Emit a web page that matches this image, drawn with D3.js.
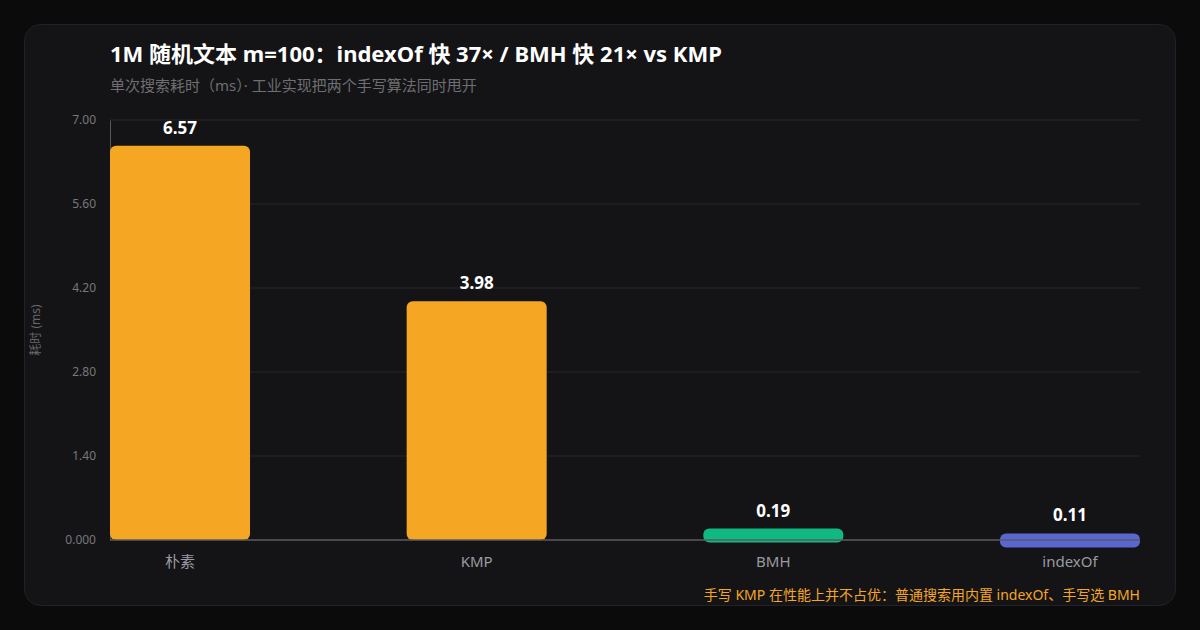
<!DOCTYPE html>
<html>
<head>
<meta charset="utf-8">
<script src="https://cdn.jsdelivr.net/npm/d3@7"></script>
<style>
  html, body { margin: 0; padding: 0; background: #0b0b0c; }
  svg { display: block; font-family: "Noto Sans", "Noto Sans CJK SC", sans-serif; }
</style>
</head>
<body>
<div id="content"></div>
<script>
// Chart data
var categories = ["朴素", "KMP", "BMH", "indexOf"];
var times = [6.57, 3.98, 0.19, 0.11];
var barColors = ["#f5a623", "#f5a623", "#10b981", "#5b67d0"];
var yTicks = [0, 1.4, 2.8, 4.2, 5.6, 7.0];

var titleText = "1M 随机文本 m=100：indexOf 快 37× / BMH 快 21× vs KMP";
var subtitleText = "单次搜索耗时（ms）· 工业实现把两个手写算法同时甩开";
var yLabelText = "耗时 (ms)";
var noteText = "手写 KMP 在性能上并不占优：普通搜索用内置 indexOf、手写选 BMH";

// SVG size
var svgWidth = 1200;
var svgHeight = 630;

// Plot area
var margin = { top: 120, right: 60, bottom: 90, left: 110 },
    plotWidth = svgWidth - margin.left - margin.right,
    plotHeight = svgHeight - margin.top - margin.bottom;

var svg = d3.select("#content").append("svg")
    .attr("width", svgWidth)
    .attr("height", svgHeight);

// Card
svg.append("rect")
    .attr("x", 24.5).attr("y", 24.5)
    .attr("width", 1151).attr("height", 581)
    .attr("rx", 16)
    .attr("fill", "#141416")
    .attr("stroke", "#222226");

// Titles
svg.append("text")
    .attr("x", 110).attr("y", 62)
    .attr("fill", "#ffffff")
    .attr("font-size", 22)
    .attr("font-weight", "bold")
    .text(titleText);

svg.append("text")
    .attr("x", 110).attr("y", 91)
    .attr("fill", "#6e6e73")
    .attr("font-size", 15)
    .text(subtitleText);

var chart = svg.append("g")
    .attr("transform", "translate(" + margin.left + "," + margin.top + ")");

var xScale = d3.scaleBand()
    .domain(categories)
    .range([0, plotWidth])
    .paddingInner(0.528)
    .paddingOuter(0);

var yScale = d3.scaleLinear()
    .domain([0, 7])
    .range([plotHeight, 0]);

// Grid lines
chart.selectAll(".grid")
    .data(yTicks.slice(1))
    .enter().append("line")
    .attr("class", "grid")
    .attr("x1", 0).attr("x2", plotWidth)
    .attr("y1", function (d) { return yScale(d); })
    .attr("y2", function (d) { return yScale(d); })
    .attr("stroke", "#26262a");

// y axis
var yAxis = d3.axisLeft(yScale)
    .tickValues(yTicks)
    .tickSize(0)
    .tickPadding(14)
    .tickFormat(function (d) { return d === 0 ? "0.000" : d3.format(".2f")(d); });

var yAxisG = chart.append("g").call(yAxis);
yAxisG.select(".domain").attr("stroke", "#55555a");
yAxisG.selectAll("text")
    .attr("fill", "#77777c")
    .attr("font-size", 12)
    .attr("font-family", "'Noto Sans', sans-serif");

// Bars (minimum visible height for tiny values)
var minBarHeight = 14;
chart.selectAll(".bar")
    .data(times)
    .enter().append("rect")
    .attr("class", "bar")
    .attr("x", function (d, i) { return xScale(categories[i]); })
    .attr("y", function (d) { return yScale(d); })
    .attr("width", xScale.bandwidth())
    .attr("height", function (d) { return Math.max(plotHeight - yScale(d), minBarHeight); })
    .attr("rx", 6)
    .attr("fill", function (d, i) { return barColors[i]; });

// Baseline
chart.append("line")
    .attr("x1", 0).attr("x2", plotWidth)
    .attr("y1", plotHeight).attr("y2", plotHeight)
    .attr("stroke", "#5a5a60")
    .attr("stroke-width", 1.5);

// Value labels
chart.selectAll(".value")
    .data(times)
    .enter().append("text")
    .attr("class", "value")
    .attr("x", function (d, i) { return xScale(categories[i]) + xScale.bandwidth() / 2; })
    .attr("y", function (d) { return yScale(d) - 12; })
    .attr("text-anchor", "middle")
    .attr("fill", "#ffffff")
    .attr("font-size", 17)
    .attr("font-weight", "bold")
    .attr("font-family", "'Noto Sans', sans-serif")
    .text(function (d) { return d3.format(".2f")(d); });

// x axis labels
var xAxis = d3.axisBottom(xScale).tickSize(0).tickPadding(16);
var xAxisG = chart.append("g")
    .attr("transform", "translate(0," + plotHeight + ")")
    .call(xAxis);
xAxisG.select(".domain").remove();
xAxisG.selectAll("text")
    .attr("fill", "#9a9aa0")
    .attr("font-size", 15)
    .attr("font-family", "'Noto Sans', 'Noto Sans CJK SC', sans-serif");

// y axis label
svg.append("text")
    .attr("transform", "translate(40,330) rotate(-90)")
    .attr("text-anchor", "middle")
    .attr("fill", "#66666b")
    .attr("font-size", 12)
    .text(yLabelText);

// Footnote
svg.append("text")
    .attr("x", 1140).attr("y", 600)
    .attr("text-anchor", "end")
    .attr("fill", "#f5a623")
    .attr("font-size", 14)
    .text(noteText);
</script>
</body>
</html>
